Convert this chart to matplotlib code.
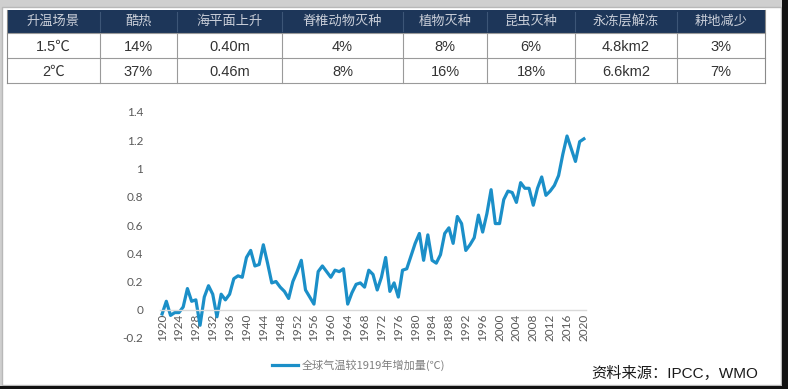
import matplotlib
matplotlib.use('agg')
import matplotlib.pyplot as plt
from matplotlib.patches import Rectangle

plt.rcParams['font.family'] = ['Lato', 'Noto Sans CJK SC', 'DejaVu Sans']

# table data
table_header = ["升温场景", "酷热", "海平面上升", "脊椎动物灭种", "植物灭种", "昆虫灭种", "永冻层解冻", "耕地减少"]
row_15 = ["1.5℃", "14%", "0.40m", "4%", "8%", "6%", "4.8km2", "3%"]
row_20 = ["2℃", "37%", "0.46m", "8%", "16%", "18%", "6.6km2", "7%"]

# chart data: global temperature increase vs 1919
years = list(range(1920, 2021))
temp_rise = [
    -0.03, 0.06, -0.04, -0.02, -0.02, 0.02, 0.15, 0.06, 0.07, -0.11,  # 1920-1929
    0.09, 0.17, 0.11, -0.05, 0.11, 0.07, 0.11, 0.22, 0.24, 0.23,      # 1930-1939
    0.37, 0.42, 0.31, 0.32, 0.46, 0.33, 0.19, 0.20, 0.16, 0.13,       # 1940-1949
    0.08, 0.20, 0.27, 0.35, 0.14, 0.09, 0.04, 0.27, 0.31, 0.27,       # 1950-1959
    0.23, 0.28, 0.27, 0.29, 0.04, 0.12, 0.18, 0.19, 0.16, 0.28,       # 1960-1969
    0.25, 0.14, 0.23, 0.37, 0.13, 0.19, 0.09, 0.28, 0.29, 0.38,       # 1970-1979
    0.47, 0.54, 0.35, 0.53, 0.35, 0.33, 0.39, 0.54, 0.58, 0.47,       # 1980-1989
    0.66, 0.61, 0.42, 0.46, 0.51, 0.67, 0.55, 0.68, 0.85, 0.61,       # 1990-1999
    0.61, 0.78, 0.84, 0.83, 0.76, 0.90, 0.86, 0.86, 0.74, 0.86,       # 2000-2009
    0.94, 0.81, 0.84, 0.88, 0.95, 1.10, 1.23, 1.14, 1.05, 1.19,       # 2010-2019
    1.21,                                                             # 2020
]
year_ticks = list(range(1920, 2021, 4))
y_ticks = [-0.2, 0, 0.2, 0.4, 0.6, 0.8, 1, 1.2, 1.4]

W, H = 788, 389
fig = plt.figure(figsize=(W / 100, H / 100), dpi=100)
fig.patch.set_facecolor('#cfcfcf')

# background / frame / table in pixel coords
bg = fig.add_axes([0, 0, 1, 1], zorder=0)
bg.set_xlim(0, W)
bg.set_ylim(H, 0)
bg.axis('off')
bg.add_patch(Rectangle((2, 7), 779, 378, facecolor='white', edgecolor='#b8b8b8', lw=1))
bg.add_patch(Rectangle((782, 0), 6, H, facecolor='#111111', edgecolor='none'))
bg.add_patch(Rectangle((0, 386), W, 3, facecolor='#111111', edgecolor='none'))

col_edges = [7, 100, 177, 282, 403, 487, 575, 677, 765]
row_edges = [10, 33, 58, 83]
bg.add_patch(Rectangle((col_edges[0], row_edges[0]), col_edges[-1] - col_edges[0],
                       row_edges[1] - row_edges[0], facecolor='#1d3659', edgecolor='none'))
for i in range(len(table_header)):
    cx = (col_edges[i] + col_edges[i + 1]) / 2
    bg.text(cx, (row_edges[0] + row_edges[1]) / 2, table_header[i], ha='center', va='center',
            fontsize=9.5, color='#c9ced8', family=['Noto Sans CJK SC', 'DejaVu Sans'])
    bg.text(cx, (row_edges[1] + row_edges[2]) / 2 + 1, row_15[i], ha='center', va='center',
            fontsize=10.5, color='#333333', family=['Liberation Sans', 'Noto Sans CJK SC'])
    bg.text(cx, (row_edges[2] + row_edges[3]) / 2 + 1, row_20[i], ha='center', va='center',
            fontsize=10.5, color='#333333', family=['Liberation Sans', 'Noto Sans CJK SC'])
for x in col_edges[1:-1]:
    bg.plot([x, x], [row_edges[0] + 2, row_edges[1] - 2], color='#3d5677', lw=0.8)
    bg.plot([x, x], [row_edges[1], row_edges[3]], color='#9a9a9a', lw=0.8)
for y in row_edges[1:]:
    bg.plot([col_edges[0], col_edges[-1]], [y, y], color='#9a9a9a', lw=0.8)
bg.plot([col_edges[0], col_edges[0]], [row_edges[0], row_edges[3]], color='#8a8a8a', lw=0.8)
bg.plot([col_edges[-1], col_edges[-1]], [row_edges[0], row_edges[3]], color='#8a8a8a', lw=0.8)

# line chart
left, right, top, bottom = 160, 586, 112, 338
ax = fig.add_axes([left / W, 1 - bottom / H, (right - left) / W, (bottom - top) / H], zorder=2)
ax.patch.set_alpha(0)
ax.plot(years, temp_rise, color='#1b8fc8', lw=2.3, solid_joinstyle='round',
        label='全球气温较1919年增加量(℃)')
ax.set_xlim(1919.5, 2020.5)
ax.set_ylim(-0.2, 1.4)
for s in ['top', 'right', 'left']:
    ax.spines[s].set_visible(False)
ax.spines['bottom'].set_position(('data', 0))
ax.spines['bottom'].set_color('#d9d9d9')
ax.spines['bottom'].set_linewidth(1)
ax.set_xticks(year_ticks)
ax.set_xticklabels([str(y) for y in year_ticks], rotation=90)
ax.set_yticks(y_ticks)
ax.set_yticklabels(['-0.2', '0', '0.2', '0.4', '0.6', '0.8', '1', '1.2', '1.4'])
ax.tick_params(axis='both', length=0, labelsize=8.5, labelcolor='#595959')
ax.tick_params(axis='x', pad=3)
ax.tick_params(axis='y', pad=12)

fig.legend(loc='center left', bbox_to_anchor=(272 / W, 1 - 365 / H), frameon=False,
           borderpad=0, borderaxespad=0, handlelength=2.3, handletextpad=0.35,
           prop={'size': 8, 'family': ['Noto Sans CJK SC', 'DejaVu Sans']}, labelcolor='#7f7f7f')

fig.text(758 / W, 1 - 373 / H, '资料来源：IPCC，WMO', ha='right', va='center', fontsize=11,
         color='#1a1a1a', family=['Liberation Sans', 'Noto Sans CJK SC'])

fig.savefig('out.png', dpi=100)
